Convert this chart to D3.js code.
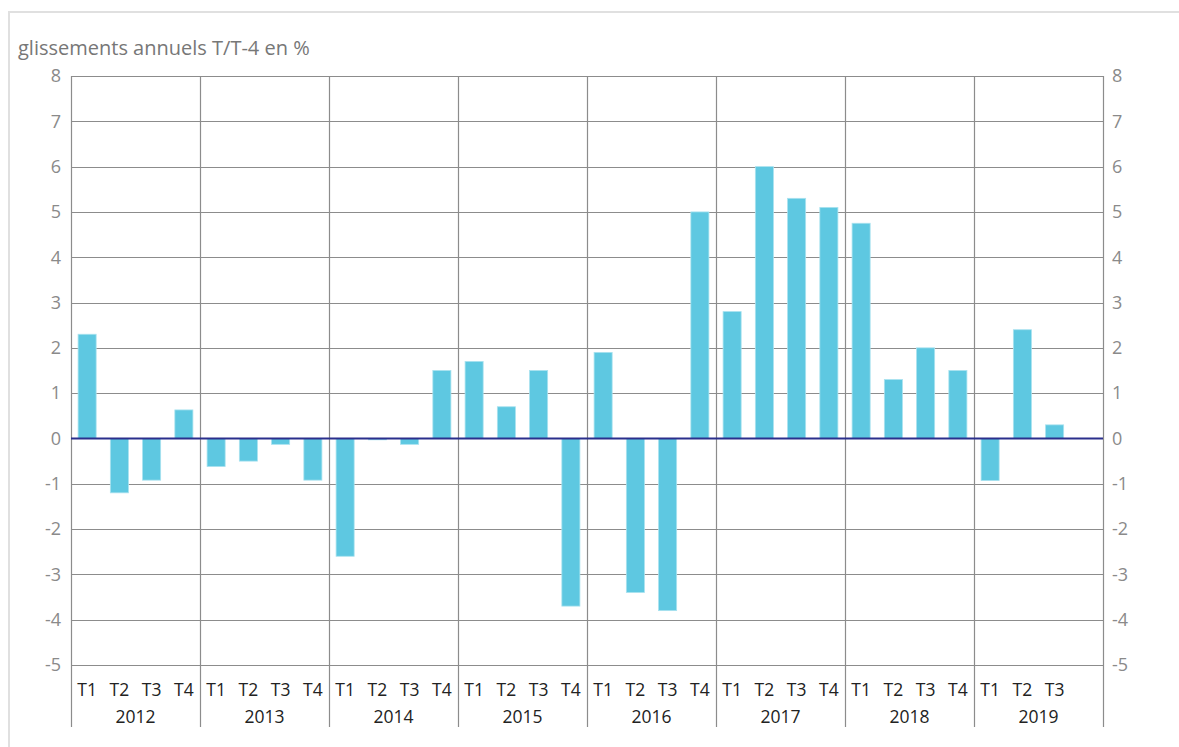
<!DOCTYPE html>
<html>
<head>
<meta charset="utf-8">
<script src="https://cdn.jsdelivr.net/npm/d3@7"></script>
<style>
  body { margin: 0; background: #fff; font-family: "Open Sans", sans-serif; }
</style>
</head>
<body>
<div id="chart"></div>
<script>
const years = ['2012', '2013', '2014', '2015', '2016', '2017', '2018', '2019'];
const quarters = ['T1', 'T2', 'T3', 'T4'];
const values = [
  2.3, -1.2, -0.92, 0.63,
  -0.62, -0.5, -0.13, -0.92,
  -2.6, -0.03, -0.13, 1.5,
  1.7, 0.7, 1.5, -3.7,
  1.9, -3.4, -3.8, 5.0,
  2.8, 6.0, 5.3, 5.1,
  4.75, 1.3, 2.0, 1.5,
  -0.93, 2.4, 0.3
];
const yTicks = [-5, -4, -3, -2, -1, 0, 1, 2, 3, 4, 5, 6, 7, 8];

const width = 1179, height = 747;
const margin = { top: 76, left: 71, right: 1179 - 1103, bottom: 747 - 665 };

const svg = d3.select('#chart').append('svg')
  .attr('width', width).attr('height', height);

// frame
svg.append('path')
  .attr('d', `M9,${height} V12 H${width}`)
  .attr('fill', 'none').attr('stroke', '#e0e0e0').attr('stroke-width', 2);

svg.append('text')
  .attr('x', 18).attr('y', 55)
  .attr('fill', '#777')
  .style('font-size', '20px')
  .text('glissements annuels T/T-4 en %');

// slots: 4 per year, 2019 keeps an empty T4 slot
const slots = [];
years.forEach(y => quarters.forEach(q => slots.push(y + q)));
const data = values.map((v, i) => ({ key: slots[i], year: years[Math.floor(i / 4)], q: quarters[i % 4], v }));

const x = d3.scaleBand().domain(slots)
  .range([margin.left, width - margin.right]).paddingInner(0.44).paddingOuter(0.22);
const xYear = d3.scaleBand().domain(years).range([margin.left, width - margin.right]);
const y = d3.scaleLinear().domain([-5, 8]).range([height - margin.bottom, margin.top]);

// horizontal grid
svg.append('g').selectAll('line').data(yTicks).join('line')
  .attr('x1', margin.left).attr('x2', width - margin.right)
  .attr('y1', d => Math.round(y(d)) + 0.5).attr('y2', d => Math.round(y(d)) + 0.5)
  .attr('stroke', '#8c8c8c').attr('stroke-width', 1.2);

// vertical year separators
svg.append('g').selectAll('line').data(years.concat(['end'])).join('line')
  .attr('x1', d => Math.round(d === 'end' ? xYear.range()[1] : xYear(d)) + 0.5)
  .attr('x2', d => Math.round(d === 'end' ? xYear.range()[1] : xYear(d)) + 0.5)
  .attr('y1', margin.top).attr('y2', 727)
  .attr('stroke', '#8c8c8c').attr('stroke-width', 1.2);

// bars
svg.append('g').selectAll('rect').data(data).join('rect')
  .attr('x', d => x(d.key))
  .attr('width', x.bandwidth())
  .attr('y', d => y(Math.max(0, d.v)))
  .attr('height', d => Math.abs(y(d.v) - y(0)))
  .attr('fill', '#5ec8e1')
  .attr('stroke', '#a9e2ef').attr('stroke-width', 0.8);

// zero line
svg.append('line')
  .attr('x1', margin.left).attr('x2', width - margin.right)
  .attr('y1', y(0)).attr('y2', y(0))
  .attr('stroke', '#2b2f8c').attr('stroke-width', 2);

// y axes labels
const yl = svg.append('g');
yl.selectAll('text.l').data(yTicks).join('text').attr('class', 'l')
  .attr('x', 61).attr('y', d => y(d)).attr('dy', '0.35em')
  .attr('text-anchor', 'end').attr('fill', '#8a8a8a').style('font-size', '18px')
  .text(d => d);
yl.selectAll('text.r').data(yTicks).join('text').attr('class', 'r')
  .attr('x', 1112).attr('y', d => y(d)).attr('dy', '0.35em')
  .attr('text-anchor', 'start').attr('fill', '#8a8a8a').style('font-size', '18px')
  .text(d => d);

// quarter labels
svg.append('g').selectAll('text').data(data).join('text')
  .attr('x', d => x(d.key) + x.bandwidth() / 2).attr('y', 696)
  .attr('text-anchor', 'middle').attr('fill', '#222').style('font-size', '17.5px')
  .text(d => d.q);

// year labels
svg.append('g').selectAll('text').data(years).join('text')
  .attr('x', d => xYear(d) + xYear.bandwidth() / 2).attr('y', 723)
  .attr('text-anchor', 'middle').attr('fill', '#222').style('font-size', '17.5px')
  .text(d => d);
</script>
</body>
</html>
